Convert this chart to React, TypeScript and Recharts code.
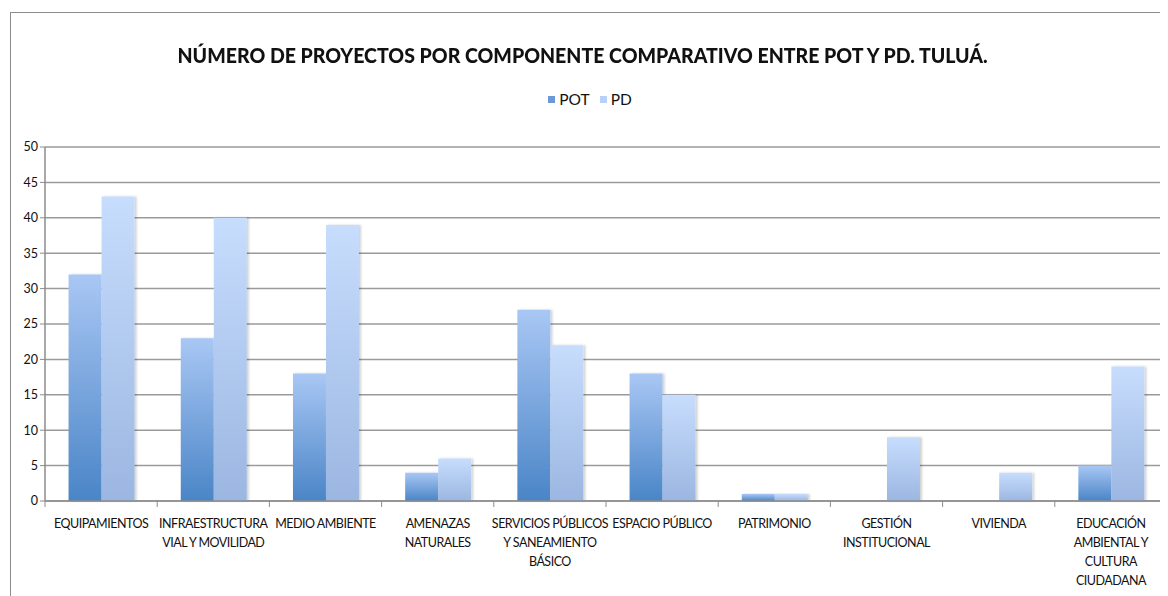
import { BarChart, Bar, XAxis, YAxis, CartesianGrid, Legend } from 'recharts';

const categories = [
  'EQUIPAMIENTOS',
  'INFRAESTRUCTURA\nVIAL Y MOVILIDAD',
  'MEDIO AMBIENTE',
  'AMENAZAS\nNATURALES',
  'SERVICIOS PÚBLICOS\nY SANEAMIENTO\nBÁSICO',
  'ESPACIO PÚBLICO',
  'PATRIMONIO',
  'GESTIÓN\nINSTITUCIONAL',
  'VIVIENDA',
  'EDUCACIÓN\nAMBIENTAL Y\nCULTURA\nCIUDADANA',
];
const potValues = [32, 23, 18, 4, 27, 18, 1, 0, 0, 5];
const pdValues = [43, 40, 39, 6, 22, 15, 1, 9, 4, 19];
const yTicks = [0, 5, 10, 15, 20, 25, 30, 35, 40, 45, 50];

const data = categories.map((name, i) => ({ name, POT: potValues[i], PD: pdValues[i] }));

const FONT = 'Lato, "Open Sans", sans-serif';
const CHART_W = 1158;
const CHART_H = 584;
const LEGEND_H = 20;
const MARGIN = { top: 134 - LEGEND_H, right: 2, bottom: 4, left: 10 };
const Y_AXIS_W = 24;
const PLOT_W = CHART_W - MARGIN.left - MARGIN.right - Y_AXIS_W;
const STEP = PLOT_W / categories.length;

function CategoryTick(props: any) {
  const { x, y, payload, index } = props;
  const lines = String(payload.value).split('\n');
  const left = x - STEP / 2;
  return (
    <g>
      <line x1={left} y1={y - 8} x2={left} y2={y - 2} stroke="#8c8c8c" />
      {index === categories.length - 1 && (
        <line x1={left + STEP} y1={y - 8} x2={left + STEP} y2={y - 2} stroke="#8c8c8c" />
      )}
      <text x={x} y={y + 19} textAnchor="middle" fontFamily={FONT} fontSize={12.5} letterSpacing={-0.5} fill="#111">
        {lines.map((l, i) => (
          <tspan key={i} x={x} dy={i === 0 ? 0 : 19}>
            {l}
          </tspan>
        ))}
      </text>
    </g>
  );
}

function LegendContent() {
  const items = [
    { label: 'POT', color: '#6c9ad9' },
    { label: 'PD', color: '#b9d1f6' },
  ];
  return (
    <div style={{ height: LEGEND_H, display: 'flex', justifyContent: 'center', gap: 10, fontFamily: FONT, fontSize: 15.5, color: '#111' }}>
      {items.map((it) => (
        <span key={it.label} style={{ display: 'flex', alignItems: 'center' }}>
          <span style={{ width: 7, height: 7, background: it.color, marginRight: 4 }} />
          {it.label}
        </span>
      ))}
    </div>
  );
}

export default function App() {
  return (
    <div style={{ position: 'relative', width: CHART_W, height: CHART_H, marginLeft: 2, marginTop: 4, borderTop: '1.5px solid #8c8c8c', borderLeft: '1.5px solid #8c8c8c', background: '#fff' }}>
      <div style={{ position: 'absolute', top: 29, left: -7, width: CHART_W, textAlign: 'center' }}>
        <span style={{ display: 'inline-block', transform: 'scaleX(0.93)', fontFamily: FONT, fontWeight: 900, fontSize: 21, color: '#111', whiteSpace: 'nowrap' }}>
          NÚMERO DE PROYECTOS POR COMPONENTE COMPARATIVO ENTRE POT Y PD. TULUÁ.
        </span>
      </div>
      <BarChart width={CHART_W} height={CHART_H} data={data} margin={MARGIN} barCategoryGap="21%" barGap={0}>
        <defs>
          <linearGradient id="potFill" x1="0" y1="0" x2="0" y2="1">
            <stop offset="0%" stopColor="#a9c7f4" />
            <stop offset="100%" stopColor="#4a85c7" />
          </linearGradient>
          <linearGradient id="pdFill" x1="0" y1="0" x2="0" y2="1">
            <stop offset="0%" stopColor="#c7ddfd" />
            <stop offset="100%" stopColor="#9bb6e1" />
          </linearGradient>
          <filter id="barShadow" x="-10%" y="-5%" width="130%" height="110%">
            <feDropShadow dx="2" dy="0" stdDeviation="1.2" floodColor="#000" floodOpacity="0.18" />
          </filter>
        </defs>
        <CartesianGrid vertical={false} stroke="#9a9a9a" strokeWidth={1.5} />
        <XAxis
          dataKey="name"
          interval={0}
          tickLine={false}
          axisLine={{ stroke: '#8c8c8c', strokeWidth: 1.5 }}
          tick={<CategoryTick />}
          height={92}
        />
        <YAxis
          domain={[0, 50]}
          ticks={yTicks}
          width={Y_AXIS_W}
          tickSize={5}
          tickLine={{ stroke: '#8c8c8c' }}
          axisLine={{ stroke: '#8c8c8c', strokeWidth: 1.5 }}
          tick={{ fontFamily: FONT, fontSize: 12.5, fill: '#111' }}
        />
        <Legend verticalAlign="top" height={LEGEND_H} content={<LegendContent />} wrapperStyle={{ top: 76, left: 0, width: CHART_W }} />
        <Bar dataKey="POT" fill="url(#potFill)" filter="url(#barShadow)" isAnimationActive={false} />
        <Bar dataKey="PD" fill="url(#pdFill)" filter="url(#barShadow)" isAnimationActive={false} />
      </BarChart>
    </div>
  );
}
